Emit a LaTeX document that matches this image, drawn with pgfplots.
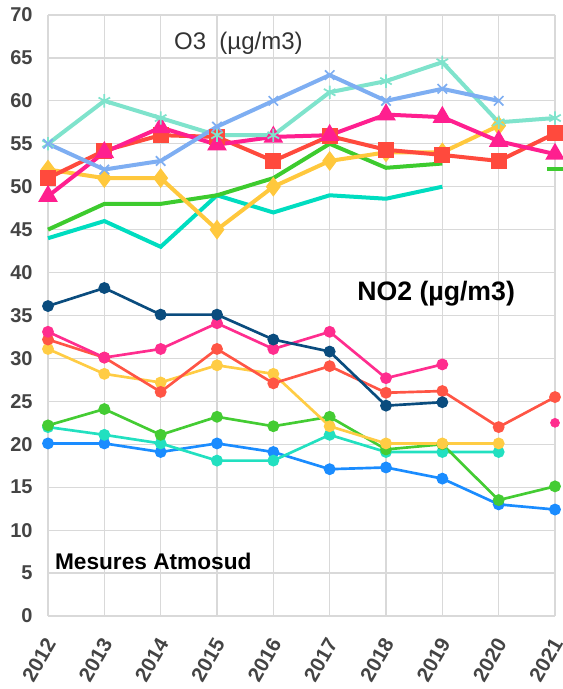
\documentclass[border=0pt]{standalone}
\usepackage{pgfplots}
\pgfplotsset{compat=1.18}
\usepackage{fontspec}
\setmainfont{Liberation Sans}
\usetikzlibrary{calc}

% O3 colours
\definecolor{oBlue}{HTML}{7EAEF2}
\definecolor{oAqua}{HTML}{7FE3CC}
\definecolor{oPink}{HTML}{FF1F8F}
\definecolor{oRed}{HTML}{FF4A3D}
\definecolor{oYellow}{HTML}{FFC83D}
\definecolor{oGreen}{HTML}{3DCB2E}
\definecolor{oTurq}{HTML}{00DDC0}
% NO2 colours
\definecolor{nNavy}{HTML}{0A4C7E}
\definecolor{nPink}{HTML}{FF2D8E}
\definecolor{nRed}{HTML}{FF5545}
\definecolor{nYellow}{HTML}{FFCC44}
\definecolor{nGreen}{HTML}{44CC33}
\definecolor{nTurq}{HTML}{22E0C0}
\definecolor{nBlue}{HTML}{1A8CFF}
\definecolor{tickgrey}{HTML}{444444}
\definecolor{gridgrey}{HTML}{D9D9D9}

\begin{document}
\begin{tikzpicture}
\begin{axis}[
    name=ax,
    scale only axis,
    width=380.25pt, height=450.75pt,
    xmin=2012, xmax=2021,
    ymin=0, ymax=70,
    clip=false,
    xtick={2012,2013,2014,2015,2016,2017,2018,2019,2020,2021},
    xticklabels={2012,2013,2014,2015,2016,2017,2018,2019,2020,2021},
    ytick={0,5,...,70},
    /pgf/number format/assume math mode=true,
    ticklabel style={font=\bfseries\fontsize{15}{15}\selectfont, text=tickgrey},
    yticklabel style={anchor=east, xshift=-8pt},
    xticklabel style={font=\bfseries\fontsize{15.5}{15.5}\selectfont,
        xshift=2pt, yshift=-18pt, rotate=60, anchor=east, inner sep=0pt},
    grid=major,
    major grid style={draw=gridgrey, line width=0.9pt},
    axis line style={draw=none},
    tick style={draw=none},
]
% ---------- NO2 ----------
\addplot[nBlue, line width=2pt, mark=*, mark size=3.4pt] coordinates {
 (2012,20.1) (2013,20.1) (2014,19.1) (2015,20.1) (2016,19.1) (2017,17.1) (2018,17.3) (2019,16.0) (2020,13.0) (2021,12.4)};
\addplot[nTurq, line width=2pt, mark=*, mark size=3.4pt] coordinates {
 (2012,22.0) (2013,21.1) (2014,20.1) (2015,18.1) (2016,18.1) (2017,21.1) (2018,19.1) (2019,19.1) (2020,19.1)};
\addplot[nGreen, line width=2pt, mark=*, mark size=3.4pt] coordinates {
 (2012,22.2) (2013,24.1) (2014,21.1) (2015,23.2) (2016,22.1) (2017,23.2) (2018,19.4) (2019,20.0) (2020,13.5) (2021,15.1)};
\addplot[nYellow, line width=2pt, mark=*, mark size=3.4pt] coordinates {
 (2012,31.1) (2013,28.2) (2014,27.2) (2015,29.2) (2016,28.2) (2017,22.1) (2018,20.1) (2019,20.1) (2020,20.1)};
\addplot[nRed, line width=2pt, mark=*, mark size=3.4pt] coordinates {
 (2012,32.2) (2013,30.1) (2014,26.1) (2015,31.1) (2016,27.1) (2017,29.1) (2018,26.0) (2019,26.2) (2020,22.0) (2021,25.5)};
\addplot[nPink, line width=2pt, mark=*, mark size=3.4pt] coordinates {
 (2012,33.1) (2013,30.1) (2014,31.1) (2015,34.1) (2016,31.1) (2017,33.1) (2018,27.7) (2019,29.3)};
\addplot[nPink, only marks, mark=*, mark size=3.4pt] coordinates {(2021,22.5)};
\addplot[nNavy, line width=2pt, mark=*, mark size=3.4pt] coordinates {
 (2012,36.1) (2013,38.2) (2014,35.1) (2015,35.1) (2016,32.2) (2017,30.8) (2018,24.5) (2019,24.9)};
% ---------- O3 ----------
\addplot[oTurq, line width=3pt] coordinates {
 (2012,44.0) (2013,46.0) (2014,43.0) (2015,49.0) (2016,47.0) (2017,49.0) (2018,48.6) (2019,50.0)};
\addplot[oGreen, line width=3pt] coordinates {
 (2012,45.0) (2013,48.0) (2014,48.0) (2015,49.0) (2016,51.0) (2017,55.0) (2018,52.2) (2019,52.7)};
\addplot[oGreen, only marks, mark=-, mark size=6pt, mark options={line width=3pt}] coordinates {(2021,52.1)};
\addplot[oYellow, line width=3pt, mark=diamond*, mark size=5pt] coordinates {
 (2012,52.0) (2013,51.0) (2014,51.0) (2015,45.0) (2016,50.0) (2017,53.0) (2018,54.0) (2019,54.0) (2020,57.1)};
\addplot[oRed, line width=3pt, mark=square*, mark size=4.5pt] coordinates {
 (2012,51.0) (2013,54.2) (2014,56.0) (2015,55.8) (2016,53.0) (2017,55.9) (2018,54.3) (2019,53.7) (2020,53.0) (2021,56.2)};
\addplot[oPink, line width=3pt, mark=triangle*, mark size=5.5pt] coordinates {
 (2012,48.9) (2013,54.0) (2014,56.9) (2015,54.9) (2016,55.8) (2017,56.0) (2018,58.4) (2019,58.1) (2020,55.3) (2021,53.8)};
\addplot[oAqua, line width=3pt, mark=asterisk, mark size=5pt, mark options={line width=1.3pt}] coordinates {
 (2012,55.0) (2013,60.0) (2014,58.0) (2015,56.0) (2016,56.0) (2017,61.0) (2018,62.3) (2019,64.5) (2020,57.5) (2021,58.0)};
\addplot[oBlue, line width=3pt, mark=x, mark size=5pt, mark options={line width=1.3pt}] coordinates {
 (2012,55.0) (2013,52.0) (2014,53.0) (2015,57.0) (2016,60.0) (2017,63.0) (2018,60.0) (2019,61.4) (2020,60.0)};

\node[font=\fontsize{18}{18}\selectfont, text=black!80] at (axis cs:2015.38,66.7) {O3\ \ (µg/m3)};
\node[font=\bfseries\fontsize{20}{20}\selectfont] at (axis cs:2018.89,37.6) {NO2 (µg/m3)};
\node[anchor=west, inner sep=0pt, font=\bfseries\fontsize{17}{17}\selectfont] at (axis cs:2012.12,6.4) {Mesures Atmosud};
\end{axis}
\pgfresetboundingbox
\path[use as bounding box] ($(ax.south west)+(-36pt,-54.75pt)$) rectangle ($(ax.north east)+(6pt,11.25pt)$);
\end{tikzpicture}
\end{document}
